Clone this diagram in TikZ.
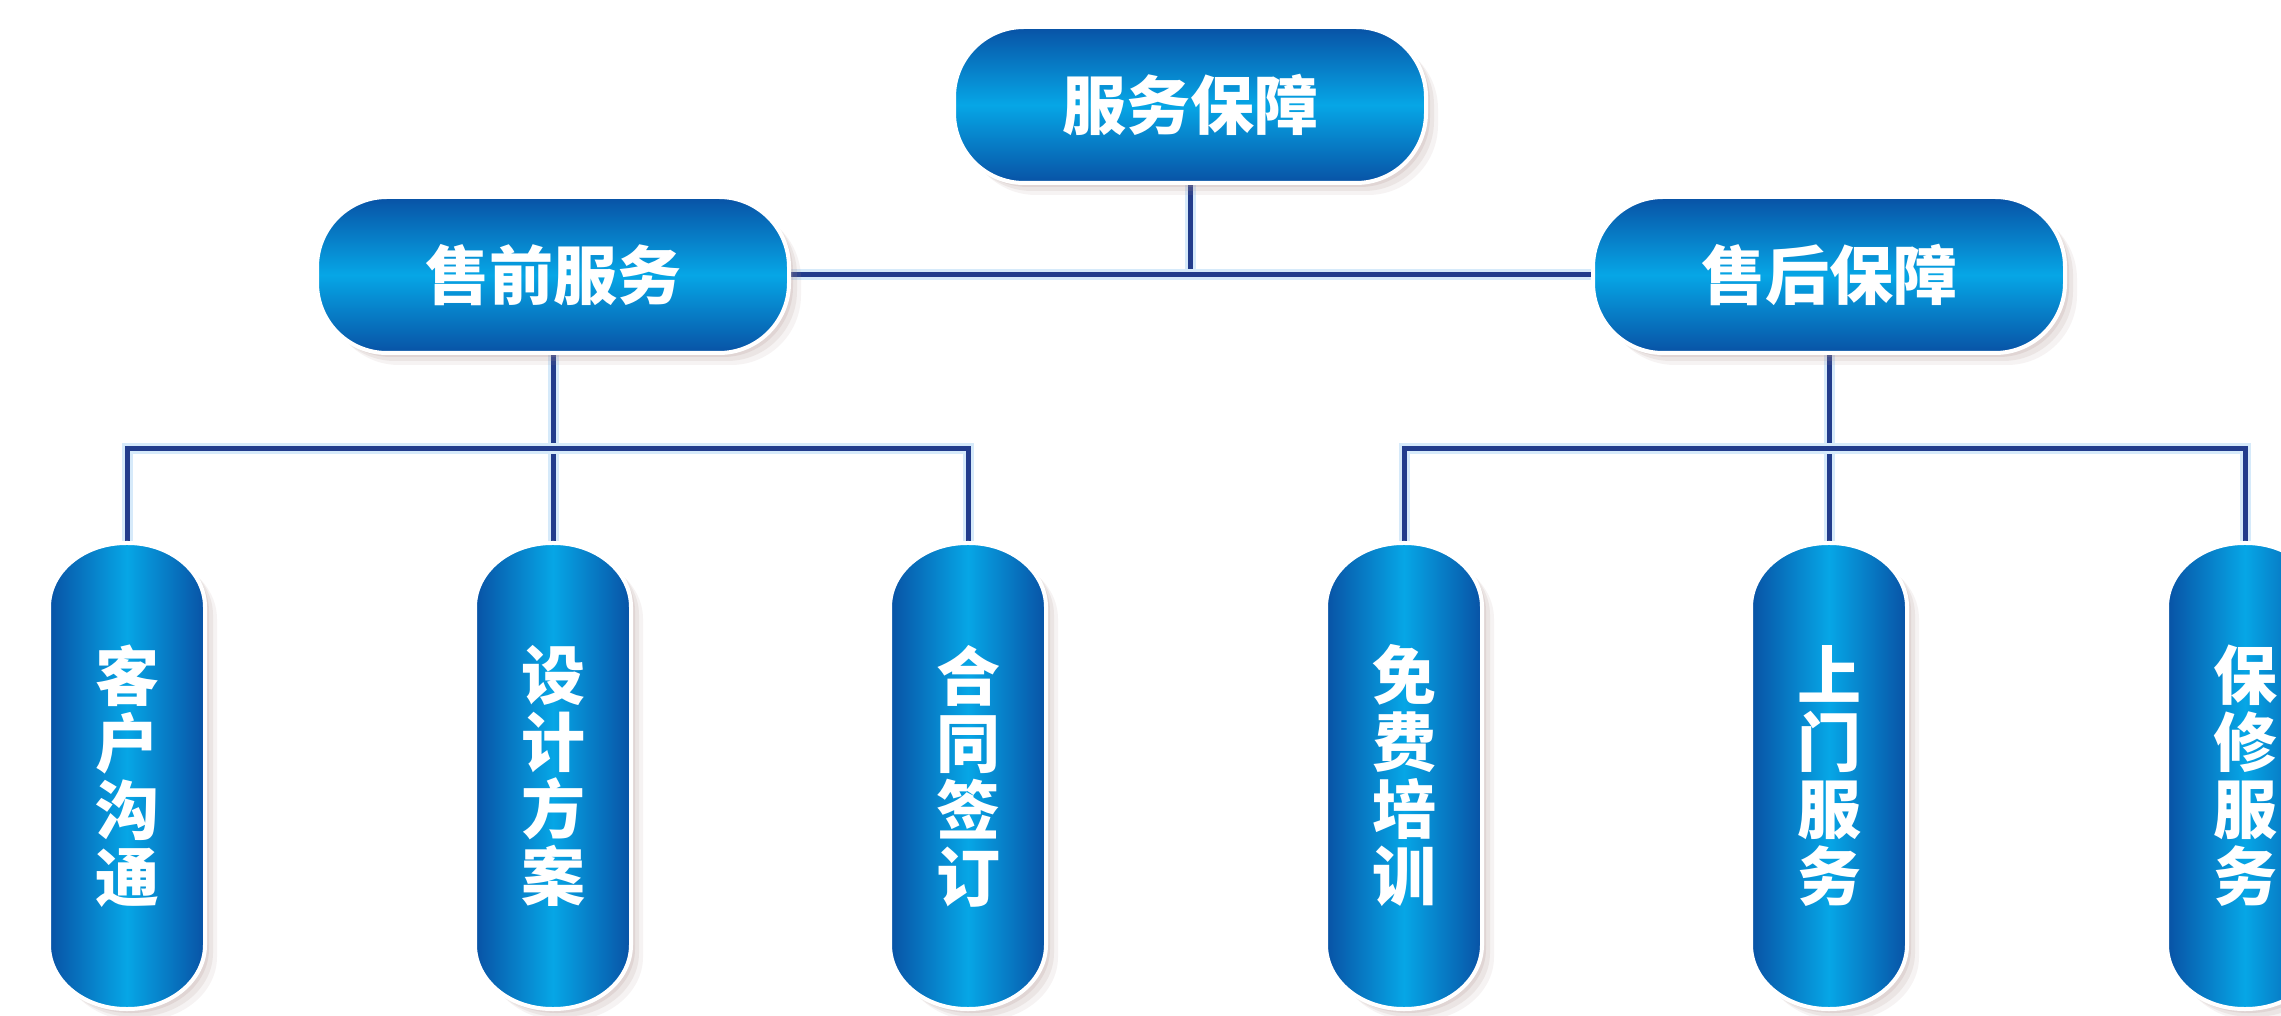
\documentclass[tikz,border=0pt]{standalone}
\usepackage{fontspec}
\newfontfamily\cjk{Noto Sans CJK SC}
\usetikzlibrary{calc,backgrounds}
\definecolor{pdark}{RGB}{8,82,165}
\definecolor{plight}{RGB}{6,166,230}
\definecolor{lnc}{RGB}{34,60,140}
\definecolor{halo}{RGB}{214,234,250}
\definecolor{shadowc}{RGB}{175,145,140}
% capsule with elliptical corners: cx, cy, half width, half height, rx, ry
\newcommand\capsule[6]{(#1-#3+#5,#2+#4) -- (#1+#3-#5,#2+#4) arc[start angle=90,end angle=0,x radius=#5pt,y radius=#6pt] -- (#1+#3,#2-#4+#6) arc[start angle=0,end angle=-90,x radius=#5pt,y radius=#6pt] -- (#1-#3+#5,#2-#4) arc[start angle=270,end angle=180,x radius=#5pt,y radius=#6pt] -- (#1-#3,#2+#4-#6) arc[start angle=180,end angle=90,x radius=#5pt,y radius=#6pt] -- cycle}
\tikzset{
  lab/.style={font=\cjk\bfseries\fontsize{64}{67}\selectfont, text=white, inner sep=0pt, draw=none},
  hlab/.style={lab, minimum width=472pt, minimum height=156pt},
  vlab/.style={lab, align=center, minimum width=156pt, minimum height=466pt},
  conn/.style={draw=lnc, line width=5pt, preaction={draw=halo, line width=11pt}},
  rim/.style={draw=white, line width=4pt},
}
\newcommand\hpill[4]{%
  \foreach \s/\o in {12/0.10,8/0.14,4/0.18} \fill[shadowc,opacity=\o] \capsule{#2+\s}{#3-\s}{236}{78}{70}{70};
  \shade[top color=pdark, bottom color=pdark, middle color=plight] \capsule{#2}{#3}{236}{78}{70}{70};
  \draw[rim] \capsule{#2}{#3}{236}{78}{70}{70};
  \node[hlab] (#1) at (#2,#3) {#4};
}
\newcommand\vpill[4]{%
  \foreach \s/\o in {12/0.10,8/0.14,4/0.18} \fill[shadowc,opacity=\o] \capsule{#2+\s}{#3-\s}{78}{233}{77}{64};
  \shade[left color=pdark, right color=pdark, middle color=plight] \capsule{#2}{#3}{78}{233}{77}{64};
  \draw[rim] \capsule{#2}{#3}{78}{233}{77}{64};
  \node[vlab] (#1) at (#2,#3) {#4};
}
\begin{document}
\begin{tikzpicture}[x=1pt,y=1pt]
\useasboundingbox (0,0) rectangle (2281,1015);
% level 0 and 1
\hpill{top}{1190}{910}{服务保障}
\hpill{L}{553}{740}{售前服务}
\hpill{R}{1829}{740}{售后保障}
% leaves
\vpill{a1}{127}{239}{客\\户\\沟\\通}
\vpill{a2}{553}{239}{设\\计\\方\\案}
\vpill{a3}{968}{239}{合\\同\\签\\订}
\vpill{b1}{1404}{239}{免\\费\\培\\训}
\vpill{b2}{1829}{239}{上\\门\\服\\务}
\vpill{b3}{2245}{239}{保\\修\\服\\务}
\begin{scope}[on background layer]
  \fill[white] (0,0) rectangle (2281,1015);
  \draw[conn] (top.south) -- (top.south |- L.east);
  \draw[conn] (L.east) -- (R.west);
  \draw[conn] (L.south) -- (a2.north);
  \draw[conn] (a1.north) -- ++(0,94) -| (a3.north);
  \draw[conn] (R.south) -- (b2.north);
  \draw[conn] (b1.north) -- ++(0,94) -| (b3.north);
\end{scope}
\end{tikzpicture}
\end{document}
